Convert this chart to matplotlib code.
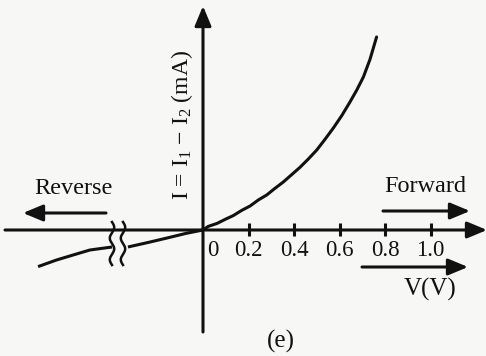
import numpy as np
import matplotlib
matplotlib.use("Agg")
import matplotlib.pyplot as plt

plt.rcParams['font.family'] = ['Liberation Serif', 'DejaVu Serif']
plt.rcParams['mathtext.fontset'] = 'custom'
plt.rcParams['mathtext.rm'] = 'Liberation Serif'
plt.rcParams['mathtext.it'] = 'Liberation Serif:italic'

# Forward branch: voltage (V) and current (mA)
v_forward = [0.0, 0.023, 0.062, 0.097, 0.133, 0.17, 0.207, 0.243, 0.28, 0.316, 0.353,
             0.39, 0.426, 0.463, 0.50, 0.536, 0.573, 0.61, 0.646, 0.676, 0.705, 0.734, 0.763]
i_forward = [0.0, 0.18, 0.33, 0.53, 0.72, 0.98, 1.2, 1.5, 1.75, 2.08, 2.4,
             2.77, 3.13, 3.55, 4.0, 4.53, 5.1, 5.72, 6.4, 7.0, 7.65, 8.53, 9.65]

# Reverse branch, drawn on a compressed scale on either side of the axis break
v_reverse_near = [0.0, -0.075, -0.158, -0.24, -0.33]
i_reverse_near = [0.0, -0.17, -0.40, -0.62, -0.85]
v_reverse_far = [-0.40, -0.497, -0.571, -0.644, -0.725]
i_reverse_far = [-0.85, -1.0, -1.25, -1.5, -1.83]

tick_values = [0.2, 0.4, 0.6, 0.8, 1.0]
tick_labels = ["0.2", "0.4", "0.6", "0.8", "1.0"]

W, H = 486, 356
X0, Y0 = 203, 230          # origin in pixels
SX, SY = 227.5, 20.0       # pixels per volt, pixels per mA

def dx(px):
    return (px - X0) / SX

def dy(py):
    return (Y0 - py) / SY

ink = "#111111"
bg = "#f7f7f5"

fig = plt.figure(figsize=(W / 100, H / 100), dpi=100, facecolor=bg)
ax = fig.add_axes([0, 0, 1, 1])
ax.set_facecolor(bg)
ax.set_xlim(dx(0), dx(W))
ax.set_ylim(dy(H), dy(0))
ax.axis('off')

lw = 2.2
arrow_kw = dict(arrowstyle="-|>,head_length=0.6,head_width=0.25",
                color=ink, lw=lw, shrinkA=0, shrinkB=0, mutation_scale=20)

def arrow(tip, tail):
    ax.annotate("", xy=tip, xytext=tail, arrowprops=arrow_kw, annotation_clip=False)

# Axes with arrowheads
arrow((dx(487), 0), (dx(5), 0))
arrow((0, dy(6)), (0, dy(332)))

# Ticks on the voltage axis
for v in tick_values:
    ax.plot([v, v], [dy(236), dy(223)], color=ink, lw=lw, solid_capstyle='butt')

# Characteristic curve
ax.plot(v_forward, i_forward, color=ink, lw=lw, solid_capstyle='round', solid_joinstyle='round')
ax.plot(v_reverse_near, i_reverse_near, color=ink, lw=lw, solid_capstyle='butt', solid_joinstyle='round')
ax.plot(v_reverse_far, i_reverse_far, color=ink, lw=lw, solid_capstyle='butt', solid_joinstyle='round')

# Axis break marks
t = np.linspace(0, 1, 200)
for xb in (112, 123):
    ys = 222 + t * 43
    xs = xb + 2.2 * np.sin(t * 4 * np.pi)
    ax.plot(dx(xs), dy(ys), color=ink, lw=1.8)

# Tick labels
fs_tick = 16.5
ax.text(dx(213), dy(250), "0", ha='center', va='center', fontsize=fs_tick, color=ink)
for v, lab in zip(tick_values, tick_labels):
    ax.text(v, dy(250), lab, ha='center', va='center', fontsize=fs_tick, color=ink)

# Direction labels and arrows
fs = 17.5
ax.text(dx(73), dy(188), "Reverse", ha='center', va='center', fontsize=fs, color=ink)
arrow((dx(23), dy(213)), (dx(106), dy(213)))
ax.text(dx(425), dy(187), "Forward", ha='center', va='center', fontsize=fs, color=ink)
arrow((dx(470), dy(211)), (dx(383), dy(211)))
arrow((dx(468), dy(267)), (dx(362), dy(267)))
ax.text(dx(430), dy(289), "V(V)", ha='center', va='center', fontsize=18, color=ink)

# Current axis label and caption
ax.text(dx(182), dy(125), "I = I$_1$ − I$_2$ (mA)", ha='center', va='center',
        rotation=90, fontsize=17, color=ink)
ax.text(dx(281), dy(341), "(e)", ha='center', va='center', fontsize=18, color=ink)

fig.savefig("out.png", dpi=100, facecolor=bg)
